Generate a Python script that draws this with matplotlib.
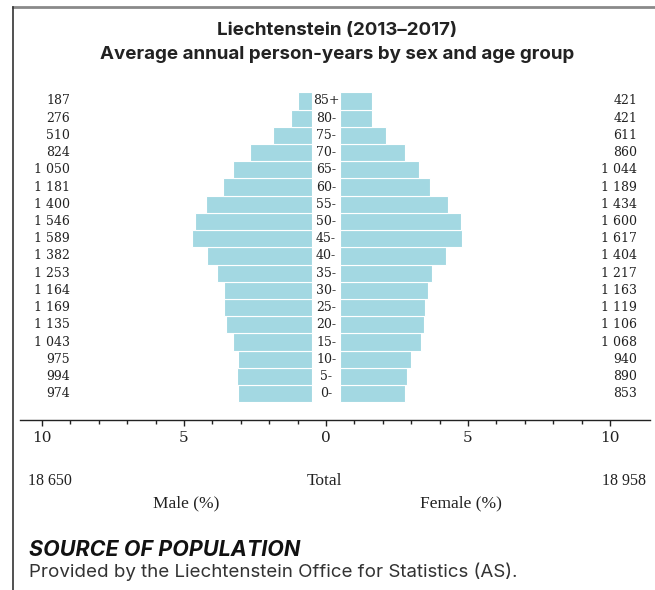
import matplotlib
matplotlib.use("Agg")
import matplotlib.pyplot as plt
from matplotlib.lines import Line2D

# Age groups, bottom to top
age_groups = ["0-", "5-", "10-", "15-", "20-", "25-", "30-", "35-", "40-",
              "45-", "50-", "55-", "60-", "65-", "70-", "75-", "80-", "85+"]
male = [974, 994, 975, 1043, 1135, 1169, 1164, 1253, 1382,
        1589, 1546, 1400, 1181, 1050, 824, 510, 276, 187]
female = [853, 890, 940, 1068, 1106, 1119, 1163, 1217, 1404,
          1617, 1600, 1434, 1189, 1044, 860, 611, 421, 421]
male_total = 18650
female_total = 18958
tick_values = [-10, -5, 0, 5, 10]
tick_labels = ["10", "5", "0", "5", "10"]

grand_total = male_total + female_total
male_pct = [v / grand_total * 100 for v in male]
female_pct = [v / grand_total * 100 for v in female]


def fmt(n):
    return f"{n:,}".replace(",", " ")


W, H = 655, 590
fig = plt.figure(figsize=(W / 100, H / 100), dpi=100)


def fx(px):
    return px / W


def fy(py):
    return 1 - py / H


# axes geometry in pixels
ax_l, ax_r = 20, 650
ax_top, ax_bot = 85, 420
ax = fig.add_axes([fx(ax_l), fy(ax_bot), (ax_r - ax_l) / W, (ax_bot - ax_top) / H])

px_per_unit = 28.4
x0 = 326
row_px = 17.23
ax.set_xlim((ax_l - x0) / px_per_unit, (ax_r - x0) / px_per_unit)
ax.set_ylim(-0.5 - (ax_bot - 402.3) / row_px, 17.5 + (92.3 - ax_top) / row_px)

gap = 0.5
bar_color = "#a3d8e2"
ys = list(range(len(age_groups)))
ax.barh(ys, [-v for v in male_pct], left=-gap, height=1.0,
        color=bar_color, edgecolor="white", linewidth=0.8)
ax.barh(ys, female_pct, left=gap, height=1.0,
        color=bar_color, edgecolor="white", linewidth=0.8)

serif = "DejaVu Serif"
ink = "#222222"
xm = (70 - x0) / px_per_unit
xf = (637 - x0) / px_per_unit
for y, lab, m, f in zip(ys, age_groups, male, female):
    ax.text(0, y, lab, ha="center", va="center", fontsize=9, family=serif, color=ink)
    ax.text(xm, y, fmt(m), ha="right", va="center", fontsize=9, family=serif, color=ink)
    ax.text(xf, y, fmt(f), ha="right", va="center", fontsize=9, family=serif, color=ink)

for s in ["top", "left", "right"]:
    ax.spines[s].set_visible(False)
ax.spines["bottom"].set_linewidth(1.0)
ax.spines["bottom"].set_color(ink)
ax.set_yticks([])
ax.set_xticks(tick_values)
ax.set_xticklabels(tick_labels, family=serif, fontsize=11, color=ink)
ax.set_xticks(range(-10, 11), minor=True)
ax.tick_params(axis="x", which="major", length=4, width=1.0, color=ink, pad=4)
ax.tick_params(axis="x", which="minor", length=3, width=1.0, color=ink)

# totals and axis titles
bserif = "Liberation Serif"
fig.text(fx(72), fy(485), fmt(male_total), ha="right", va="baseline",
         family=bserif, fontsize=11.5, color=ink)
fig.text(fx(646), fy(485), fmt(female_total), ha="right", va="baseline",
         family=bserif, fontsize=11.5, color=ink)
fig.text(fx(324), fy(485), "Total", ha="center", va="baseline",
         family=bserif, fontsize=12.5, color=ink)
fig.text(fx(186), fy(507), "Male (%)", ha="center", va="baseline",
         family=bserif, fontsize=12.5, color=ink)
fig.text(fx(461), fy(507), "Female (%)", ha="center", va="baseline",
         family=bserif, fontsize=12.5, color=ink)

# title
sans = "Inter"
fig.text(fx(337), fy(35), "Liechtenstein (2013–2017)", ha="center", va="baseline",
         family=sans, fontweight="bold", fontsize=13.5, color=ink)
fig.text(fx(337), fy(59), "Average annual person-years by sex and age group",
         ha="center", va="baseline", family=sans, fontweight="bold",
         fontsize=13.5, color=ink)

# source note
fig.text(fx(29), fy(556), "SOURCE OF POPULATION", ha="left", va="baseline",
         family=sans, fontweight="bold", style="italic", fontsize=15.5,
         color="#111111")
fig.text(fx(29), fy(577), "Provided by the Liechtenstein Office for Statistics (AS).",
         ha="left", va="baseline", family=sans, fontsize=13.5, color="#333333")

# frame lines
fig.add_artist(Line2D([fx(13), 1], [fy(7), fy(7)], transform=fig.transFigure,
                      color="#8a8a8a", linewidth=2.0))
fig.add_artist(Line2D([fx(13), fx(13)], [fy(7), 0], transform=fig.transFigure,
                      color="#333333", linewidth=1.2))

fig.savefig("out.png", dpi=100)
